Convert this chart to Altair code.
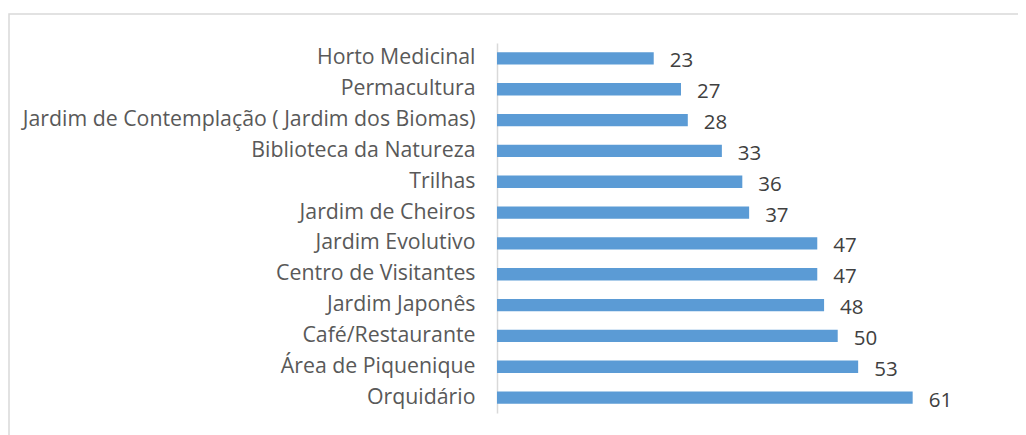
import altair as alt
import pandas as pd

categories = ["Horto Medicinal", "Permacultura", "Jardim de Contemplação ( Jardim dos Biomas)",
              "Biblioteca da Natureza", "Trilhas", "Jardim  de Cheiros", "Jardim Evolutivo",
              "Centro de Visitantes ", "Jardim Japonês", "Café/Restaurante", "Área de Piquenique",
              "Orquidário"]
values = [23, 27, 28, 33, 36, 37, 47, 47, 48, 50, 53, 61]

df = pd.DataFrame({"cat": categories, "val": values})

FONT = "Open Sans"

base = alt.Chart(df).encode(
    y=alt.Y("cat:N", sort=categories, title=None,
            scale=alt.Scale(paddingInner=0.6, paddingOuter=0.3),
            axis=alt.Axis(domainColor="#d9d9d9", domainWidth=1.5, ticks=False,
                          labelFont=FONT, labelFontSize=21.3, labelColor="#595959",
                          labelPadding=22, labelLimit=700)),
    x=alt.X("val:Q", title=None, scale=alt.Scale(domain=[0, 70]), axis=None),
)

bars = base.mark_bar(color="#5B9BD5")
labels = base.mark_text(align="left", dx=16, dy=3, font=FONT, fontSize=20.5, color="#404040").encode(
    text=alt.Text("val:Q"))

border = alt.Chart(pd.DataFrame({"a": [0]})).mark_rect(
    fill=None, stroke="#d9d9d9", strokeWidth=1.5).encode(
    x=alt.value(-488), x2=alt.value(523), y=alt.value(-29), y2=alt.value(420))

chart = alt.layer(border, bars, labels).properties(
    width=477, height=370,
    autosize=alt.AutoSizeParams(type="none"),
    padding={"left": 489, "top": 35, "right": 44, "bottom": 22},
    background="white",
).configure_view(strokeWidth=0, stroke=None)

chart.save("out.html", embed_options={"renderer": "svg", "actions": False})
